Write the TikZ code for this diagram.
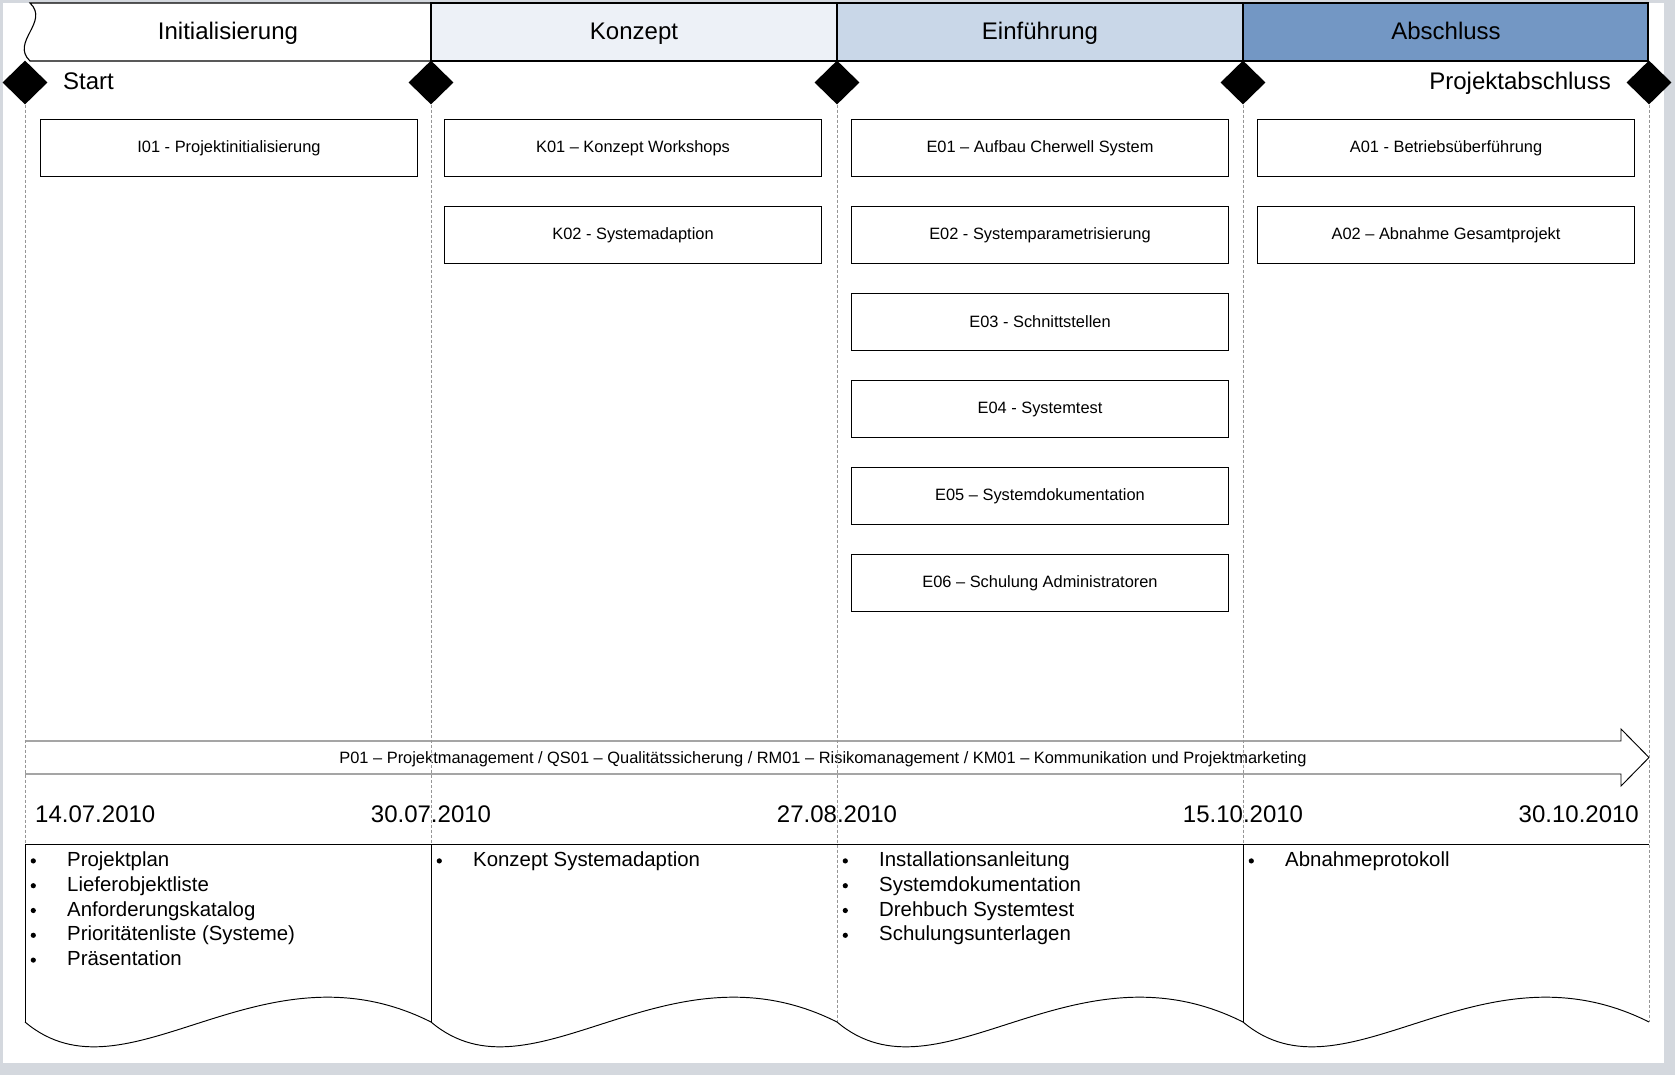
\documentclass[tikz,border=0pt]{standalone}
\usepackage{fontspec}
\setmainfont{Liberation Sans}
\usetikzlibrary{shapes.geometric}
\definecolor{pagegray}{RGB}{212,216,222}
\definecolor{hdrK}{RGB}{237,241,247}
\definecolor{hdrE}{RGB}{201,215,232}
\definecolor{hdrA}{RGB}{115,151,196}
\definecolor{dashgray}{RGB}{150,150,150}
\begin{document}
\begin{tikzpicture}[x=1pt,y=-1pt,
  hdrline/.style={draw=black, line width=1.1pt},
  hdrtxt/.style={anchor=base, inner sep=0pt, font=\fontsize{24}{28}\selectfont},
  mstone/.style={diamond, fill=black, minimum width=45pt, minimum height=44pt, inner sep=0pt},
  mstxt/.style={inner sep=0pt, font=\fontsize{24}{28}\selectfont},
  taskbox/.style={draw=black, line width=1.1pt, fill=white, minimum width=377pt, minimum height=57pt, inner sep=0pt, font=\fontsize{16.4}{19}\selectfont},
  vline/.style={draw=dashgray, line width=0.8pt, dash pattern=on 3pt off 2pt},
  datetxt/.style={inner sep=0pt, font=\fontsize{24}{28}\selectfont},
  itemtxt/.style={anchor=base west, inner sep=0pt, font=\fontsize{20.4}{24}\selectfont},
  docline/.style={draw=black, line width=0.95pt},
  bul/.style={fill=black}
]
\useasboundingbox (0,0) rectangle (1675,1075);
\fill[pagegray] (0,0) rectangle (1675,1075);
\fill[white] (3,3) rectangle (1664,1063);

% ---------- header ----------
\filldraw[hdrline, fill=white] (30,3) -- (431,3) -- (431,61) -- (30,61)
  .. controls (10,42) and (50,22) .. (30,3) -- cycle;
\filldraw[hdrline, fill=hdrK] (431,3) rectangle (837,61);
\filldraw[hdrline, fill=hdrE] (837,3) rectangle (1243,61);
\filldraw[hdrline, fill=hdrA] (1243,3) rectangle (1648,61);
\node[hdrtxt] (hI) at (228,39.5) {Initialisierung};
\node[hdrtxt] (hK) at (634,39.5) {Konzept};
\node[hdrtxt] (hE) at (1040,39.5) {Einführung};
\node[hdrtxt] (hA) at (1446,39.5) {Abschluss};

% ---------- milestones ----------
\node[mstone] (m0) at (25,82.5) {};
\node[mstone] (m1) at (431,82.5) {};
\node[mstone] (m2) at (837,82.5) {};
\node[mstone] (m3) at (1243,82.5) {};
\node[mstone] (m4) at (1649,82.5) {};
\node[mstxt, anchor=base west] (tStart) at (63,90) {Start};
\node[mstxt, anchor=base east] (tEnd) at (1611,90) {Projektabschluss};

% ---------- tasks ----------
\node[taskbox] (I01) at (229,148) {I01 - Projektinitialisierung};
\node[taskbox] (K01) at (633,148) {K01 – Konzept Workshops};
\node[taskbox] (K02) at (633,235) {K02 - Systemadaption};
\node[taskbox] (E01) at (1040,148) {E01 – Aufbau Cherwell System};
\node[taskbox] (E02) at (1040,235) {E02 - Systemparametrisierung};
\node[taskbox] (E03) at (1040,322) {E03 - Schnittstellen};
\node[taskbox] (E04) at (1040,409) {E04 - Systemtest};
\node[taskbox] (E05) at (1040,496) {E05 – Systemdokumentation};
\node[taskbox] (E06) at (1040,583) {E06 – Schulung Administratoren};
\node[taskbox] (A01) at (1446,148) {A01 - Betriebsüberführung};
\node[taskbox] (A02) at (1446,235) {A02 – Abnahme Gesamtprojekt};

% ---------- process arrow ----------
\filldraw[docline, fill=white] (25,741) -- (1621,741) -- (1621,729) -- (1649,757.5)
  -- (1621,786) -- (1621,774) -- (25,774);
\node[inner sep=0pt, anchor=base, font=\fontsize{16.4}{19}\selectfont] (proc) at (823,763)
  {P01 – Projektmanagement / QS01 – Qualitätssicherung / RM01 – Risikomanagement / KM01 – Kommunikation und Projektmarketing};

% ---------- dates ----------
\node[datetxt, anchor=base west] (d0) at (35,822) {14.07.2010};
\node[datetxt, anchor=base] (d1) at (431,822) {30.07.2010};
\node[datetxt, anchor=base] (d2) at (837,822) {27.08.2010};
\node[datetxt, anchor=base] (d3) at (1243,822) {15.10.2010};
\node[datetxt, anchor=base east] (d4) at (1639,822) {30.10.2010};

% ---------- boundary lines ----------
\coordinate (b0) at (25,1022);
\coordinate (b1) at (431,1022);
\coordinate (b2) at (837,1022);
\coordinate (b3) at (1243,1022);
\coordinate (b4) at (1649,1022);
\foreach \i in {0,...,4} \draw[vline] (m\i.south) -- (b\i);

% ---------- deliverables ----------
\draw[docline] (b0) -- (25,844) -- (1649,844);
\draw[docline] (b1) -- (431,844);
\draw[docline] (b3) -- (1243,844);
\foreach \x in {25,431,837,1243} {
  \draw[docline] (\x,1022) .. controls (\x+102,1108) and (\x+235,936) .. (\x+406,1022);
}

\foreach \t [count=\k from 0] in {Projektplan,Lieferobjektliste,Anforderungskatalog,Prioritätenliste (Systeme),Präsentation} {
  \fill[bul] (33.3,866.5+24.8*\k-5.6) circle (2.6);
  \node[itemtxt] (dI\k) at (67,866.5+24.8*\k) {\t};
}
\fill[bul] (439.3,866.5-5.6) circle (2.6);
\node[itemtxt] (dK0) at (473,866.5) {Konzept Systemadaption};
\foreach \t [count=\k from 0] in {Installationsanleitung,Systemdokumentation,Drehbuch Systemtest,Schulungsunterlagen} {
  \fill[bul] (845.3,866.5+24.8*\k-5.6) circle (2.6);
  \node[itemtxt] (dE\k) at (879,866.5+24.8*\k) {\t};
}
\fill[bul] (1251.3,866.5-5.6) circle (2.6);
\node[itemtxt] (dA0) at (1285,866.5) {Abnahmeprotokoll};
\end{tikzpicture}
\end{document}
